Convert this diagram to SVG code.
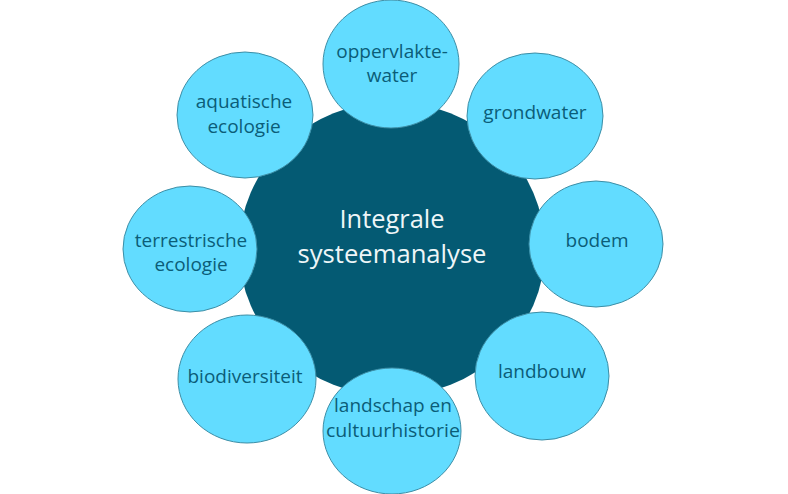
<svg xmlns="http://www.w3.org/2000/svg" width="788" height="494" viewBox="0 0 788 494">
<style>
.sat{fill:#62DCFF;stroke:#3D8EA6;stroke-width:1}
.st{font-family:"Open Sans","Liberation Sans",sans-serif;font-size:19px;fill:#0B5D78;text-anchor:middle}
.ct{font-family:"Open Sans","Liberation Sans",sans-serif;font-size:26px;fill:#EEF6F8;text-anchor:middle}
</style>
<rect width="788" height="494" fill="#FFFFFF"/>
<g id="center">
<ellipse cx="392" cy="249" rx="153" ry="147" fill="#045A73"/>
<text class="ct" x="392" y="228" textLength="105" lengthAdjust="spacingAndGlyphs">Integrale</text>
<text class="ct" x="392" y="263" textLength="189" lengthAdjust="spacingAndGlyphs">systeemanalyse</text>
</g>
<g id="connectors"></g>
<g id="oppervlaktewater">
<ellipse class="sat" cx="391" cy="64" rx="68" ry="64"/>
<text class="st" x="392" y="58">oppervlakte-</text>
<text class="st" x="392" y="82">water</text>
</g>
<g id="grondwater">
<ellipse class="sat" cx="535" cy="116" rx="68" ry="63"/>
<text class="st" x="535" y="119">grondwater</text>
</g>
<g id="bodem">
<ellipse class="sat" cx="596" cy="244" rx="67" ry="63"/>
<text class="st" x="597" y="247">bodem</text>
</g>
<g id="landbouw">
<ellipse class="sat" cx="542" cy="376" rx="67" ry="64"/>
<text class="st" x="542" y="378">landbouw</text>
</g>
<g id="landschap">
<ellipse class="sat" cx="392" cy="431" rx="69" ry="63"/>
<text class="st" x="393" y="412">landschap en</text>
<text class="st" x="393" y="437" textLength="134" lengthAdjust="spacingAndGlyphs">cultuurhistorie</text>
</g>
<g id="biodiversiteit">
<ellipse class="sat" cx="247" cy="379" rx="69" ry="64"/>
<text class="st" x="245" y="383">biodiversiteit</text>
</g>
<g id="terrestrische">
<ellipse class="sat" cx="190" cy="249" rx="67" ry="63"/>
<text class="st" x="191" y="247">terrestrische</text>
<text class="st" x="191" y="271">ecologie</text>
</g>
<g id="aquatische">
<ellipse class="sat" cx="245" cy="115" rx="68" ry="63"/>
<text class="st" x="244" y="108">aquatische</text>
<text class="st" x="244" y="133">ecologie</text>
</g>
</svg>
